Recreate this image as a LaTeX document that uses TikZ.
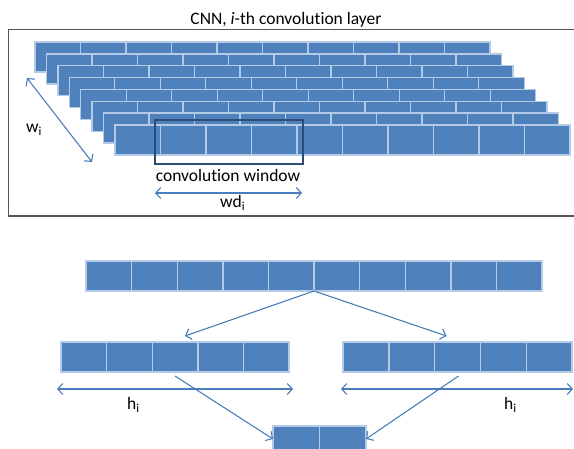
\documentclass[tikz,border=0pt]{standalone}
\usepackage{fontspec}
\setmainfont{Carlito}[Ligatures={NoCommon}]
\usetikzlibrary{arrows.meta,calc}
\definecolor{cellfill}{HTML}{4F81BD}
\definecolor{cellline}{HTML}{B4CAE6}
\definecolor{arrowblue}{HTML}{4A7EBB}
\definecolor{windowblue}{HTML}{2C4D75}
\definecolor{framegray}{HTML}{555555}
\begin{document}
\begin{tikzpicture}[x=1pt,y=-1pt,
  cell/.style={draw=cellline, fill=cellfill, line width=1.4pt,
    minimum width=45.5pt, minimum height=30pt, inner sep=0pt,
    outer sep=0pt, anchor=north west},
  link/.style={draw=arrowblue, line width=1.1pt, -{Straight Barb[length=5pt,width=11pt]}},
  span/.style={draw=arrowblue, line width=1.1pt,
    {Straight Barb[length=5pt,width=11pt]}-{Straight Barb[length=5pt,width=11pt]}},
  lbl/.style={font=\fontsize{17.5}{20}\selectfont, inner sep=0pt}]
\clip (0,0) rectangle (574,449);

% frame around the convolution layer
\draw[framegray, line width=1.6pt] (8.5,29.5) rectangle (590,216);
\node[lbl, anchor=base] (title) at (286,25) {CNN, \textit{i}-th convolution layer};

% stacked feature rows, back to front
\foreach \r in {0,...,7}{
  \foreach \c in {0,...,9}{
    \node[cell] (L\r-\c) at ({35+11.43*\r+45.5*\c},{42+11.86*\r}) {};
  }
}

% convolution window over the front row
\node[draw=windowblue, line width=1.6pt, minimum width=148pt, minimum height=44pt,
  inner sep=0pt, anchor=north west] (win) at (154,119) {};
\node[lbl] (wintext) at (228,175) {convolution window};

% width arrows and labels
\coordinate (wa) at (27,78);
\coordinate (wb) at (92,162);
\draw[span] (wa) -- (wb);
\node[lbl, anchor=base west] (wlab) at (26,133) {w\textsubscript{i}};
\coordinate (wda) at (155,193);
\coordinate (wdb) at (302,193);
\draw[span] (wda) -- (wdb);
\node[lbl, anchor=base west] (wdlab) at (220,208) {wd\textsubscript{i}};

% pooling tree
\foreach \c in {0,...,9}{
  \node[cell, minimum width=45.6pt] (T\c) at ({86+45.6*\c},261) {};
}
\foreach \c in {0,...,4}{
  \node[cell, minimum width=45.6pt] (A\c) at ({61+45.6*\c},342) {};
  \node[cell, minimum width=45.8pt] (B\c) at ({343+45.8*\c},342) {};
}
\foreach \c in {0,1}{
  \node[cell, minimum width=46.5pt] (C\c) at ({273+46.5*\c},426) {};
}

\coordinate (ta) at ($(A2.north)+(10,-6)$);
\coordinate (tb) at ($(B2.north)+(-11,-6)$);
\draw[link] (T4.south east) -- (ta);
\draw[link] (T4.south east) -- (tb);
\draw[link] ($(A2.south)+(0,4)$) -- ($(C0.west)+(0,-2)$);
\draw[link] ($(B2.south)+(1,4)$) -- ($(C1.east)+(0,-2)$);

\coordinate (ha) at (57,389);
\coordinate (hb) at (293,389);
\coordinate (hc) at (341,389);
\coordinate (hd) at (573,389);
\draw[span] (ha) -- (hb);
\draw[span] (hc) -- (hd);
\node[lbl, anchor=base west] (hlab1) at (127,410) {h\textsubscript{i}};
\node[lbl, anchor=base west] (hlab2) at (504,410) {h\textsubscript{i}};
\end{tikzpicture}
\end{document}
